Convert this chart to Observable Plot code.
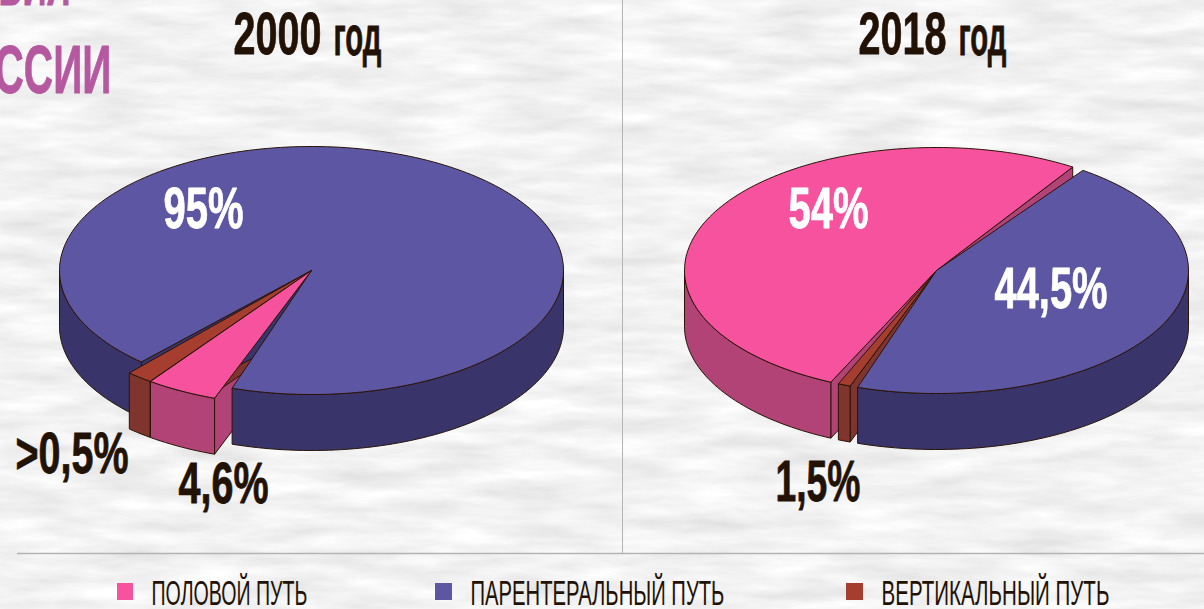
<!DOCTYPE html>
<html lang="ru">
<head>
<meta charset="utf-8">
<script src="https://cdn.jsdelivr.net/npm/d3@7"></script>
<script src="https://cdn.jsdelivr.net/npm/@observablehq/plot@0.6"></script>
<style>
html,body{margin:0;padding:0;width:1204px;height:609px;overflow:hidden;background:#f4f4f4}
#paper{position:absolute;left:0;top:0}
#chart{position:absolute;left:0;top:0}
#chart svg{background:transparent}
</style>
</head>
<body>
<svg id="paper" width="1204" height="609" xmlns="http://www.w3.org/2000/svg">
  <filter id="tex" x="0" y="0" width="100%" height="100%" color-interpolation-filters="sRGB">
    <feTurbulence type="fractalNoise" baseFrequency="0.012 0.06" numOctaves="4" seed="7"/>
    <feColorMatrix type="matrix" values="0.16 0 0 0 0.87  0.16 0 0 0 0.87  0.16 0 0 0 0.87  0 0 0 0 1"/>
  </filter>
  <rect width="1204" height="609" filter="url(#tex)"/>
</svg>
<div id="chart"></div>
<script>
// --- data ---
const categories = ["ПОЛОВОЙ ПУТЬ", "ПАРЕНТЕРАЛЬНЫЙ ПУТЬ", "ВЕРТИКАЛЬНЫЙ ПУТЬ"];
// drawn wedge shares (percent of the circle), order: pink, blue, red
const shares2000 = [4.6, 93.3, 1.7];
const shares2018 = [52.2, 45.2, 0.8];
const labels2000 = ["4,6%", "95%", ">0,5%"];
const labels2018 = ["54%", "44,5%", "1,5%"];
const years = ["2000", "2018"];
const yearWord = "год";

// --- styles ---
const topColors  = ["#F7529D", "#5D57A3", "#A63E30"];
const wallColors = ["#B24376", "#39356A", "#7F342E"];
const outline = "#2a1408";
const ink = "#221205";
const FONT = "'Liberation Sans Narrow','Liberation Sans',sans-serif";

// --- layout ---
const pies = [
  { shares: shares2000, cx: 311, cy: 270, rx: 252, ry: 124, depth: 56,
    // clockwise order, start degrees from the top, small gap after each wedge
    order: [0, 2, 1], start: 199.7, gaps: [0.1, 0, 0],
    rimOffset: [[-12, 11], [0, 0], [-12, 11]],
    paint: [["radial", 0], ["radial", 2], ["radial", 1], ["wall", 1], ["top", 1], ["wall", 2], ["top", 2], ["wall", 0], ["top", 0]] },
  { shares: shares2018, cx: 936, cy: 270, rx: 252, ry: 123, depth: 56,
    order: [0, 1, 2], start: 204.8, gaps: [2.8, 1.8, 2.0],
    rimOffset: [[0, 0], [0, 0], [0, 0]],
    paint: [["radial", 0], ["wall", 0], ["top", 0], ["radial", 2], ["wall", 2], ["top", 2], ["wall", 1], ["top", 1]] }
];

const rad = d => d * Math.PI / 180;

function wedgeAngles(p) {
  const out = [];
  let a = p.start;
  p.order.forEach((idx, k) => {
    const span = p.shares[idx] * 3.6;
    out[idx] = [a, a + span];
    a += span + p.gaps[k];
  });
  return out;
}
function rimPt(p, idx, deg, dz = 0) {
  const [ox, oy] = p.rimOffset[idx];
  return { x: p.cx + ox + p.rx * Math.sin(rad(deg)), y: p.cy + oy - p.ry * Math.cos(rad(deg)) + dz };
}
function arcPts(p, idx, a, b, dz = 0) {
  const n = Math.max(2, Math.ceil(Math.abs(b - a) / 1.5));
  return d3.range(n + 1).map(i => rimPt(p, idx, a + (b - a) * i / n, dz));
}
function polys(p) {
  const ang = wedgeAngles(p);
  const res = [];
  for (const [kind, idx] of p.paint) {
    const [a, b] = ang[idx];
    if (kind === "top") {
      const pts = [{ x: p.cx, y: p.cy }, ...arcPts(p, idx, a, b), { x: p.cx, y: p.cy }];
      res.push({ pts, fill: topColors[idx] });
    } else if (kind === "radial") {
      for (const [deg, sign] of [[a, -1], [b, 1]]) {
        if (sign * Math.sin(rad(deg)) <= 0) continue; // faces away from the viewer
        const r = rimPt(p, idx, deg), r2 = rimPt(p, idx, deg, p.depth);
        const pts = [{ x: p.cx, y: p.cy }, r, r2, { x: p.cx, y: p.cy + p.depth }, { x: p.cx, y: p.cy }];
        res.push({ pts, fill: wallColors[idx] });
      }
    } else {
      // outer wall: only the part in the front half (90..270 deg, also +360)
      for (const [lo, hi] of [[90, 270], [450, 630]]) {
        const s = Math.max(a, lo), e = Math.min(b, hi);
        if (e <= s) continue;
        const up = arcPts(p, idx, s, e), down = arcPts(p, idx, e, s, p.depth);
        res.push({ pts: [...up, ...down, up[0]], fill: wallColors[idx] });
      }
    }
  }
  return res;
}

// text: x is the left edge, base the baseline, w the painted width
const purple = "#B5589F";
const textItems = [
  { text: "ВИЯ", x: -2, base: 4, size: 68, w: 72, fill: purple },
  { text: "ССИИ", x: -6, base: 92, size: 68, w: 117, fill: purple },
  { text: years[0], x: 233, base: 53, size: 60, w: 88, fill: ink },
  { text: yearWord, x: 333, base: 54, size: 56, w: 48, fill: ink },
  { text: years[1], x: 858, base: 53, size: 60, w: 88, fill: ink },
  { text: yearWord, x: 958, base: 54, size: 56, w: 48, fill: ink },
  { text: labels2000[1], x: 163, base: 227, size: 58, w: 80, fill: "#ffffff" },
  { text: labels2000[2], x: 15, base: 472, size: 58, w: 113, fill: ink },
  { text: labels2000[0], x: 178, base: 502, size: 58, w: 90, fill: ink },
  { text: labels2018[0], x: 788, base: 227, size: 58, w: 80, fill: "#ffffff" },
  { text: labels2018[1], x: 994, base: 307, size: 58, w: 113, fill: "#ffffff" },
  { text: labels2018[2], x: 775, base: 500, size: 58, w: 85, fill: ink },
  { text: categories[0], x: 151, base: 604, size: 35, w: 156, fill: ink, regular: true },
  { text: categories[1], x: 470, base: 604, size: 35, w: 254, fill: ink, regular: true },
  { text: categories[2], x: 881, base: 604, size: 35, w: 228, fill: ink, regular: true }
];
const swatches = [
  { x1: 117, x2: 133, y1: 583, y2: 600 },
  { x1: 435, x2: 452, y1: 583, y2: 600 },
  { x1: 846, x2: 863, y1: 583, y2: 600 }
];

const polyMarks = pies.flatMap(polys).map(o =>
  Plot.line(o.pts, { x: "x", y: "y", fill: o.fill, stroke: outline, strokeWidth: 1, strokeLinejoin: "round" })
);

const plot = Plot.plot({
  width: 1204, height: 609, margin: 0,
  x: { domain: [0, 1204], range: [0, 1204], axis: null },
  y: { domain: [0, 609], range: [0, 609], axis: null },
  marks: [
    Plot.ruleX([622], { y1: 0, y2: 553, stroke: "#b4b4b4", strokeWidth: 1 }),
    Plot.ruleY([553], { x1: 17, x2: 1204, stroke: "#b4b4b4", strokeWidth: 1.5 }),
    ...polyMarks,
    Plot.rect(swatches, { x1: "x1", x2: "x2", y1: "y1", y2: "y2", fill: (d, i) => topColors[i] }),
    ...textItems.map(t =>
      Plot.text([t], {
        x: "x", y: d => d.base - 0.32 * d.size, text: "text", textAnchor: "start", lineAnchor: "middle",
        fontSize: t.size, fontFamily: FONT, fontWeight: t.regular ? 400 : 700, fill: t.fill,
        stroke: t.fill, strokeWidth: t.regular ? 0 : 0.8
      })
    )
  ]
});
plot.style.background = "transparent";
document.getElementById("chart").append(plot);
// condense the glyphs horizontally to the widths seen in the reference
const byText = new Map(textItems.map(t => [t.text, t]));
d3.select(plot).selectAll("text").each(function () {
  const t = byText.get(this.textContent);
  if (!t) return;
  const sx = t.w / this.getComputedTextLength();
  const tr = this.getAttribute("transform") || "";
  const xAttr = parseFloat(this.getAttribute("x")) || 0;
  this.setAttribute("transform", `${tr} translate(${xAttr},0) scale(${sx},1) translate(${-xAttr},0)`);
});
</script>
</body>
</html>
